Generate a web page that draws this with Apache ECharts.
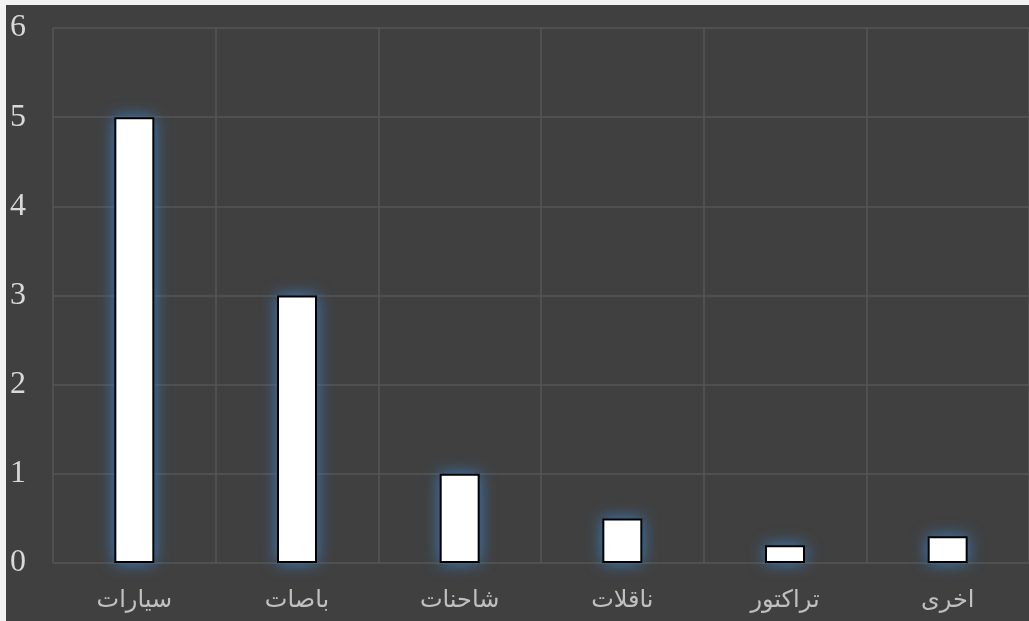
<!DOCTYPE html>
<html>
<head>
<meta charset="utf-8">
<script src="https://cdn.jsdelivr.net/npm/echarts@6/dist/echarts.min.js"></script>
<style>
  html, body { margin: 0; padding: 0; background: #f2f2f2; overflow: hidden; }
  #chart { position: absolute; left: 6px; top: 5px; width: 1023px; height: 616px; background: #404040; }
</style>
</head>
<body>
<div id="chart"></div>
<script>
var categories = ['سيارات', 'باصات', 'شاحنات', 'ناقلات', 'تراكتور', 'اخرى'];
var values = [5, 3, 1, 0.5, 0.2, 0.3];
var yTicks = [0, 1, 2, 3, 4, 5, 6];

var myChart = echarts.init(document.getElementById('chart'));
var option = {
    backgroundColor: '#404040',
    animation: false,
    grid: { left: 47, right: -7, top: 23, bottom: 58 },
    xAxis: {
        type: 'category',
        data: categories,
        axisLine: { show: false },
        axisTick: { show: false },
        splitLine: { show: true, lineStyle: { color: '#565656', width: 1.5 } },
        axisLabel: {
            color: '#c0c0c0',
            fontFamily: 'DejaVu Sans, sans-serif',
            fontSize: 24,
            margin: 26,
            interval: 0
        }
    },
    yAxis: {
        type: 'value',
        min: yTicks[0],
        max: yTicks[yTicks.length - 1],
        interval: 1,
        axisLine: { show: false },
        axisTick: { show: false },
        splitLine: { lineStyle: { color: '#565656', width: 1.5 } },
        axisLabel: {
            color: '#d9d9d9',
            fontFamily: 'Liberation Serif, Times New Roman, serif',
            fontSize: 32,
            align: 'left',
            margin: 43
        }
    },
    series: [{
        // glow layer behind the bars
        type: 'bar',
        data: values,
        barWidth: 40,
        silent: true,
        itemStyle: {
            color: '#34679a',
            shadowBlur: 16,
            shadowColor: 'rgba(60,125,190,1)'
        }
    }, {
        type: 'bar',
        data: values,
        barWidth: 40,
        barGap: '-100%',
        itemStyle: {
            color: '#ffffff',
            borderColor: '#000000',
            borderWidth: 2
        }
    }]
};
myChart.setOption(option);
</script>
</body>
</html>
